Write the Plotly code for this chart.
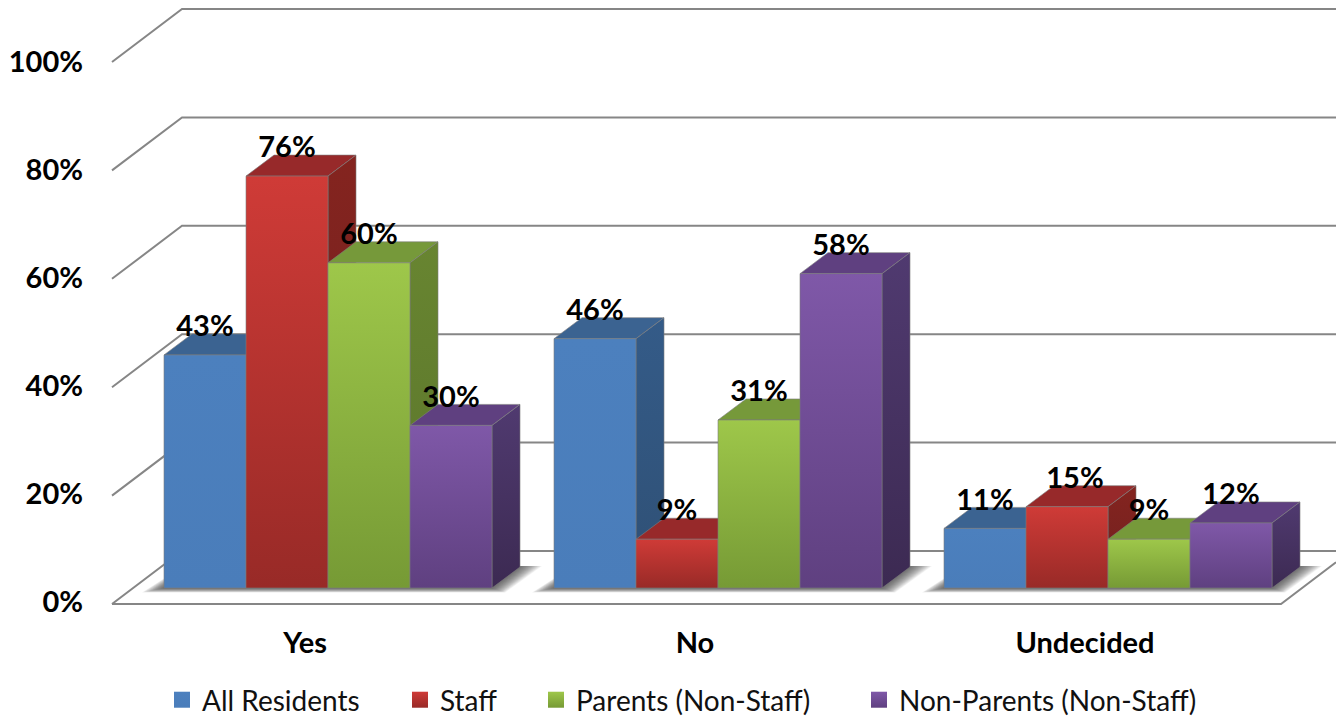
import plotly.graph_objects as go

categories = ["Yes", "No", "Undecided"]
tick_labels = ["0%", "20%", "40%", "60%", "80%", "100%"]
tick_values = [0, 20, 40, 60, 80, 100]
all_residents = [43, 46, 11]
staff = [76, 9, 15]
parents = [60, 31, 9]
non_parents = [30, 58, 12]

series = [
    ("All Residents", all_residents, "#4C80BE", "#4A7DBA", "#3B6391", "#345B88", "#2F5075"),
    ("Staff", staff, "#CF3B37", "#982A27", "#97292A", "#84241F", "#702020"),
    ("Parents (Non-Staff)", parents, "#9EC74A", "#769A35", "#76993A", "#688531", "#5A742A"),
    ("Non-Parents (Non-Staff)", non_parents, "#7F58A8", "#5F4080", "#5F4080", "#503A70", "#3C2A52"),
]

# pixel frame of the plot area
W, H = 1336, 717
PL, PB = 84, 623
PX_CAT = 390.0      # px per category
X0 = 305.0          # px of first category
PX_PCT = 5.42       # px per percent
Y0 = 604.0          # px of 0%

bw = 82 / PX_CAT
shift = (164 - X0) / PX_CAT
base = 16 / PX_PCT
dx = 28 / PX_CAT
dy = 21 / PX_PCT
wall_dx = 70 / PX_CAT
wall_dy = 53 / PX_PCT
xl = (112 - X0) / PX_CAT
xr_front = (1281 - X0) / PX_CAT
xmax = (W - X0) / PX_CAT
xmin = (PL - X0) / PX_CAT
GRID = "#868686"
EDGE = "rgba(125,125,125,0.6)"
FONT = "Lato"
FS = 29
LEGEND_FS = 28
SHADOW_LAYERS = 20

fig = go.Figure()

# real bars, underneath their shaded faces
for i, (name, vals, *_) in enumerate(series):
    fig.add_trace(go.Bar(x=[g + shift + (i + 0.5) * bw for g in range(3)], y=vals, base=base,
                         width=bw, marker=dict(color=series[i][2], line=dict(width=0)),
                         showlegend=False, name=name, hoverinfo="skip"))

# walls and floor
for t in tick_values:
    fig.add_trace(go.Scatter(x=[xl, xl + wall_dx, xmax], y=[t, t + wall_dy, t + wall_dy], mode="lines",
                             line=dict(color=GRID, width=2), showlegend=False, hoverinfo="skip"))
fig.add_trace(go.Scatter(x=[xl, xr_front, xmax], y=[0, 0, (xmax - xr_front) / wall_dx * wall_dy], mode="lines",
                         line=dict(color=GRID, width=2), showlegend=False, hoverinfo="skip"))

# soft shadows on the floor: stacked translucent outlines that shrink towards the bars
for g in range(3):
    left = g + shift
    right = left + 4 * bw
    for k in range(SHADOW_LAYERS):
        f = 1 - k / SHADOW_LAYERS
        sx = 22 * f / PX_CAT
        sy = 4.5 * f / PX_PCT
        xs = [left - sx, right + sx * 0.6, right + dx + sx, left + dx - sx * 0.4, left - sx]
        ys = [base - sy, base - sy, base + dy + 0.2, base + dy + 0.2, base - sy]
        fig.add_trace(go.Scatter(x=xs, y=ys, mode="lines", fill="toself", line=dict(width=0),
                                 fillcolor="rgba(50,50,50,0.055)", showlegend=False, hoverinfo="skip"))


def face(xs, ys, c_bottom, c_top=None):
    kw = dict(fillcolor=c_bottom)
    if c_top is not None:
        kw = dict(fillgradient=dict(type="vertical", colorscale=[[0, c_bottom], [1, c_top]]))
    fig.add_trace(go.Scatter(x=xs, y=ys, mode="lines", fill="toself", line=dict(color=EDGE, width=1),
                             showlegend=False, hoverinfo="skip", **kw))


for g in range(3):
    for i, (name, vals, f_top, f_bot, c_top, s_top, s_bot) in enumerate(series):
        x0 = g + shift + i * bw
        x1 = x0 + bw
        top = base + vals[g]
        face([x0, x1, x1 + dx, x0 + dx, x0], [top, top, top + dy, top + dy, top], c_top)
        face([x1, x1 + dx, x1 + dx, x1, x1], [base, base + dy, top + dy, top, base], s_bot, s_top)
        face([x0, x1, x1, x0, x0], [base, base, top, top, base], f_bot, f_top)

# data labels (the Undecided / Staff label sits a little to the right in the reference)
label_nudge = {(2, 1): 8 / PX_CAT}
for i, (name, vals, *_) in enumerate(series):
    fig.add_trace(go.Scatter(
        x=[g + shift + (i + 0.5) * bw + label_nudge.get((g, i), 0) for g in range(3)],
        y=[base + v + 26 / PX_PCT for v in vals],
        text=[f"{v}%" for v in vals], mode="text", textposition="middle center",
        textfont=dict(family=FONT, size=FS, color="black", weight="bold"),
        showlegend=False, hoverinfo="skip", cliponaxis=False))

# legend entries
legend_x = [162, 400, 536, 859]
legend_layout = {}
for i, (name, vals, f_top, f_bot, *_) in enumerate(series):
    key = "legend" if i == 0 else f"legend{i + 1}"
    fig.add_trace(go.Scatter(x=[None], y=[None], mode="markers", name=name,
                             legend=key,
                             marker=dict(symbol="square", size=16, color=f_top,
                                         gradient=dict(type="vertical", color=f_bot),
                                         line=dict(width=0))))
    legend_layout[key] = dict(x=(legend_x[i] - PL) / (W - PL), y=-0.0835, xanchor="left", yanchor="top",
                              bgcolor="rgba(0,0,0,0)", font=dict(family=FONT, size=LEGEND_FS, color="#111"),
                              itemclick=False, itemdoubleclick=False)

fig.update_layout(
    width=W, height=H, margin=dict(l=PL, r=0, t=0, b=H - PB, autoexpand=False),
    paper_bgcolor="white", plot_bgcolor="white", barmode="overlay", showlegend=True,
    xaxis=dict(range=[xmin, xmax], tickvals=[0, 1, 2], ticktext=categories, showgrid=False, zeroline=False,
               showline=False, ticks="", ticklabelstandoff=0, fixedrange=True,
               tickfont=dict(family=FONT, size=FS, color="black", weight="bold")),
    yaxis=dict(range=[(Y0 - PB) / PX_PCT, Y0 / PX_PCT], tickvals=[t + 0.4 - t * 0.004 for t in tick_values],
               ticktext=tick_labels, showgrid=False, zeroline=False, showline=False, ticks="", fixedrange=True,
               tickfont=dict(family=FONT, size=FS, color="black", weight="bold")),
    **legend_layout,
)
fig.write_html("out.html", config=dict(displayModeBar=False),
               post_script="document.body.style.margin='0';document.body.style.overflow='hidden';")
